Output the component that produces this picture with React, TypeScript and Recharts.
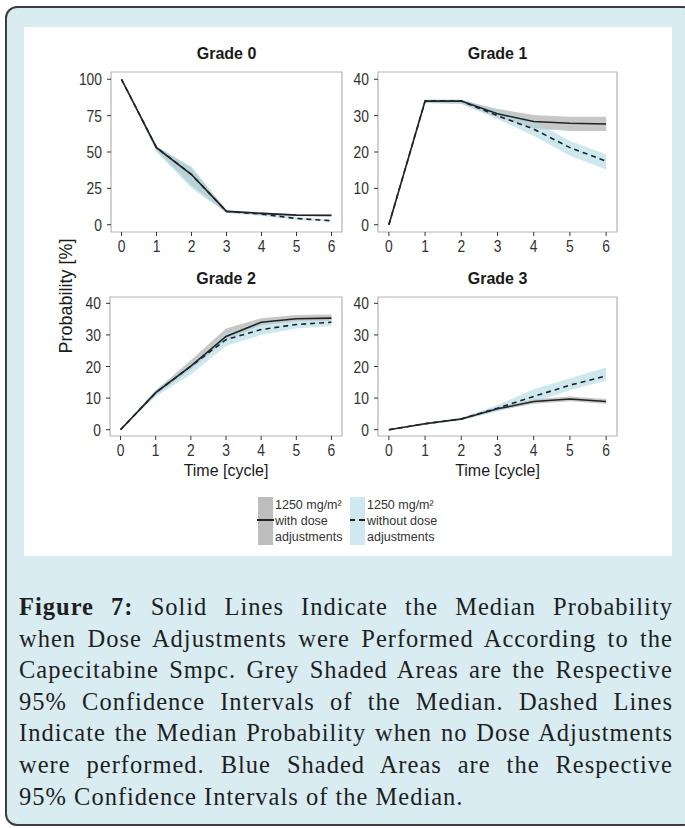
import React from 'react';
import { ComposedChart, Area, Line, XAxis, YAxis, ReferenceArea } from 'recharts';

// cycles on the x axis
const cycles = [0, 1, 2, 3, 4, 5, 6];
const xTicks = [0, 1, 2, 3, 4, 5, 6];

// Grade 0
const g0Solid = [100, 53, 34.5, 9.2, 7.8, 6.6, 6.4];
const g0Dashed = [100, 53, 34.5, 9.2, 7.3, 4.3, 2.7];
const g0GreyLo = [100, 51, 27, 8, 7, 6, 5.8];
const g0GreyHi = [100, 54, 39, 10, 8.5, 7.2, 7];
const g0BlueLo = [100, 50, 25, 8, 6, 3.5, 2];
const g0BlueHi = [100, 54, 40, 10, 8.5, 5.5, 3.5];

// Grade 1
const g1Solid = [0, 34, 34, 30.5, 28.4, 27.9, 27.7];
const g1Dashed = [0, 34, 34, 30, 26.3, 21.2, 17.5];
const g1GreyLo = [0, 33.5, 33.3, 29.5, 26.5, 25.8, 25.8];
const g1GreyHi = [0, 34.3, 34.3, 31.8, 30.2, 29.7, 29.7];
const g1BlueLo = [0, 33.5, 33.3, 29, 24.5, 19, 15.2];
const g1BlueHi = [0, 34.5, 34.5, 31.5, 28.5, 23, 19.4];

// Grade 2
const g2Solid = [0, 11.7, 20.1, 29.5, 34, 35.1, 35.3];
const g2Dashed = [0, 11.7, 20.1, 28.5, 31.7, 33.3, 34];
const g2GreyLo = [0, 11, 19, 28.5, 33, 34.3, 34.5];
const g2GreyHi = [0, 12.5, 22, 32, 35.3, 36.3, 36.5];
const g2BlueLo = [0, 10.5, 17.5, 26.5, 30, 32, 32.8];
const g2BlueHi = [0, 12.5, 21, 30.5, 33.5, 34.5, 35];

// Grade 3
const g3Solid = [0, 1.9, 3.4, 6.6, 8.9, 9.7, 8.9];
const g3Dashed = [0, 1.9, 3.4, 6.8, 10.5, 14.1, 17];
const g3GreyLo = [0, 1.6, 3.1, 6, 8.2, 9, 8.2];
const g3GreyHi = [0, 2.2, 3.7, 7.2, 9.6, 10.5, 9.7];
const g3BlueLo = [0, 1.6, 3, 5.8, 8.8, 12.5, 15.5];
const g3BlueHi = [0, 2.2, 3.8, 7.8, 12.8, 16.3, 19.7];

const sans = '"Liberation Sans", Arial, sans-serif';
const serif = '"Liberation Serif", "Times New Roman", serif';

const build = (solid: number[], dashed: number[], gLo: number[], gHi: number[], bLo: number[], bHi: number[]) =>
  cycles.map((x, i) => ({
    x,
    solid: solid[i],
    dashed: dashed[i],
    grey: [gLo[i], gHi[i]],
    blue: [bLo[i], bHi[i]],
  }));

const YTick = (props: any) => {
  const { x, y, payload } = props;
  return (
    <g transform={`translate(${x},${y})`}>
      <text transform="scale(0.84,1)" textAnchor="end" dy={6} fontSize={16.5} fill="#333" fontFamily={sans}>
        {payload.value}
      </text>
    </g>
  );
};

const XTick = (props: any) => {
  const { x, y, payload } = props;
  return (
    <g transform={`translate(${x},${y})`}>
      <text transform="scale(0.84,1)" textAnchor="middle" dy={13.5} fontSize={16.5} fill="#333" fontFamily={sans}>
        {payload.value}
      </text>
    </g>
  );
};

type PanelProps = {
  title: string;
  data: any[];
  left: number;
  top: number;
  plotW: number;
  plotH: number;
  yDomain: [number, number];
  yTicks: number[];
  xTitle?: boolean;
};

const Y_W = 45;
const X_H = 26;
const M_TOP = 2;
const M_RIGHT = 3;

function Panel({ title, data, left, top, plotW, plotH, yDomain, yTicks, xTitle }: PanelProps) {
  return (
    <>
      <div
        style={{
          position: 'absolute',
          left,
          top: top - 28,
          width: plotW,
          textAlign: 'center',
          fontFamily: sans,
          fontWeight: 'bold',
          fontSize: 16,
          lineHeight: '20px',
          color: '#1a1a1a',
        }}
      >
        {title}
      </div>
      <div style={{ position: 'absolute', left: left - Y_W, top: top - M_TOP }}>
        <ComposedChart
          width={Y_W + plotW + M_RIGHT}
          height={M_TOP + plotH + X_H}
          data={data}
          margin={{ top: M_TOP, right: M_RIGHT, left: 0, bottom: 0 }}
        >
          <XAxis
            dataKey="x"
            type="number"
            domain={[-0.3, 6.3]}
            ticks={xTicks}
            height={X_H}
            axisLine={false}
            tickLine={{ stroke: '#333' }}
            tickSize={4}
            tickMargin={2}
            tick={<XTick />}
            interval={0}
          />
          <YAxis
            type="number"
            domain={yDomain}
            ticks={yTicks}
            width={Y_W}
            axisLine={false}
            tickLine={{ stroke: '#333' }}
            tickSize={4}
            tickMargin={5}
            tick={<YTick />}
            interval={0}
          />
          <Area
            type="linear"
            dataKey="grey"
            stroke="none"
            fill="#8f8f8f"
            fillOpacity={0.5}
            isAnimationActive={false}
          />
          <Area
            type="linear"
            dataKey="blue"
            stroke="none"
            fill="#add8e6"
            fillOpacity={0.6}
            isAnimationActive={false}
          />
          <Line
            type="linear"
            dataKey="dashed"
            stroke="#222"
            strokeWidth={1.6}
            strokeDasharray="5 4"
            dot={false}
            isAnimationActive={false}
          />
          <Line
            type="linear"
            dataKey="solid"
            stroke="#222"
            strokeWidth={1.6}
            dot={false}
            isAnimationActive={false}
          />
          <ReferenceArea
            x1={-0.3}
            x2={6.3}
            y1={yDomain[0]}
            y2={yDomain[1]}
            fill="none"
            stroke="#b3b3b3"
            strokeWidth={1.2}
            ifOverflow="visible"
          />
        </ComposedChart>
      </div>
      {xTitle && (
        <div
          style={{
            position: 'absolute',
            left,
            top: top + plotH + 26,
            width: plotW,
            textAlign: 'center',
            fontFamily: sans,
            fontSize: 16,
            lineHeight: '18px',
            color: '#1a1a1a',
          }}
        >
          Time [cycle]
        </div>
      )}
    </>
  );
}

const captionLines = [
  'Solid Lines Indicate the Median Probability',
  'when Dose Adjustments were Performed According to the',
  'Capecitabine Smpc. Grey Shaded Areas are the Respective',
  '95% Confidence Intervals of the Median. Dashed Lines',
  'Indicate the Median Probability when no Dose Adjustments',
  'were performed. Blue Shaded Areas are the Respective',
  '95% Confidence Intervals of the Median.',
];

const legendText = ['1250 mg/m²', 'with dose', 'adjustments'];
const legendText2 = ['1250 mg/m²', 'without dose', 'adjustments'];

export default function App() {
  const d0 = build(g0Solid, g0Dashed, g0GreyLo, g0GreyHi, g0BlueLo, g0BlueHi);
  const d1 = build(g1Solid, g1Dashed, g1GreyLo, g1GreyHi, g1BlueLo, g1BlueHi);
  const d2 = build(g2Solid, g2Dashed, g2GreyLo, g2GreyHi, g2BlueLo, g2BlueHi);
  const d3 = build(g3Solid, g3Dashed, g3GreyLo, g3GreyHi, g3BlueLo, g3BlueHi);

  const legendLine = (t: string, i: number) => (
    <div key={i} style={{ height: 16 }}>
      {t}
    </div>
  );

  return (
    <div style={{ position: 'absolute', left: 0, top: 0, width: 685, height: 828, overflow: 'hidden', background: '#fff' }}>
      {/* outer frame */}
      <div
        style={{
          position: 'absolute',
          left: 5,
          top: 6,
          width: 690,
          height: 820,
          boxSizing: 'border-box',
          border: '2px solid #3d3d3d',
          borderRadius: 12,
          background: '#d8ecf2',
        }}
      />
      {/* white figure panel */}
      <div style={{ position: 'absolute', left: 24, top: 27, width: 648, height: 529, background: '#fff' }} />

      <Panel title="Grade 0" data={d0} left={111} top={72} plotW={231} plotH={160} yDomain={[-5, 105]} yTicks={[0, 25, 50, 75, 100]} />
      <Panel title="Grade 1" data={d1} left={378} top={72} plotW={239} plotH={160} yDomain={[-2, 42]} yTicks={[0, 10, 20, 30, 40]} />
      <Panel title="Grade 2" data={d2} left={110} top={297} plotW={232} plotH={139} yDomain={[-2, 42]} yTicks={[0, 10, 20, 30, 40]} xTitle />
      <Panel title="Grade 3" data={d3} left={378} top={297} plotW={239} plotH={139} yDomain={[-2, 42]} yTicks={[0, 10, 20, 30, 40]} xTitle />

      {/* y axis title */}
      <div
        style={{
          position: 'absolute',
          left: 66 - 80,
          top: 296 - 10,
          width: 160,
          height: 20,
          lineHeight: '20px',
          textAlign: 'center',
          transform: 'rotate(-90deg)',
          fontFamily: sans,
          fontSize: 18,
          color: '#1a1a1a',
        }}
      >
        Probability [%]
      </div>

      {/* legend */}
      <div style={{ position: 'absolute', left: 258, top: 497, width: 15, height: 48, background: '#bdbdbd' }} />
      <div style={{ position: 'absolute', left: 257, top: 519, width: 17, height: 2, background: '#222' }} />
      <div style={{ position: 'absolute', left: 275, top: 497, fontFamily: sans, fontSize: 12.5, lineHeight: '16px', color: '#333' }}>
        {legendText.map(legendLine)}
      </div>
      <div style={{ position: 'absolute', left: 350, top: 497, width: 15, height: 48, background: '#d0e8f0' }} />
      <div style={{ position: 'absolute', left: 350, top: 519, width: 5, height: 1.6, background: '#222' }} />
      <div style={{ position: 'absolute', left: 359, top: 519, width: 6, height: 1.6, background: '#222' }} />
      <div style={{ position: 'absolute', left: 367, top: 497, fontFamily: sans, fontSize: 12.5, lineHeight: '16px', color: '#333' }}>
        {legendText2.map(legendLine)}
      </div>

      {/* caption */}
      <div
        style={{
          position: 'absolute',
          left: 19,
          top: 591,
          width: 654,
          fontFamily: serif,
          fontSize: 24.5,
          letterSpacing: 1,
          lineHeight: '31.6px',
          color: '#1f1f1f',
        }}
      >
        {captionLines.map((t, i) => (
          <div
            key={i}
            style={{ textAlign: 'justify', textAlignLast: i < captionLines.length - 1 ? 'justify' : 'left' }}
          >
            {i === 0 && <b>Figure 7: </b>}
            {t}
          </div>
        ))}
      </div>
    </div>
  );
}
